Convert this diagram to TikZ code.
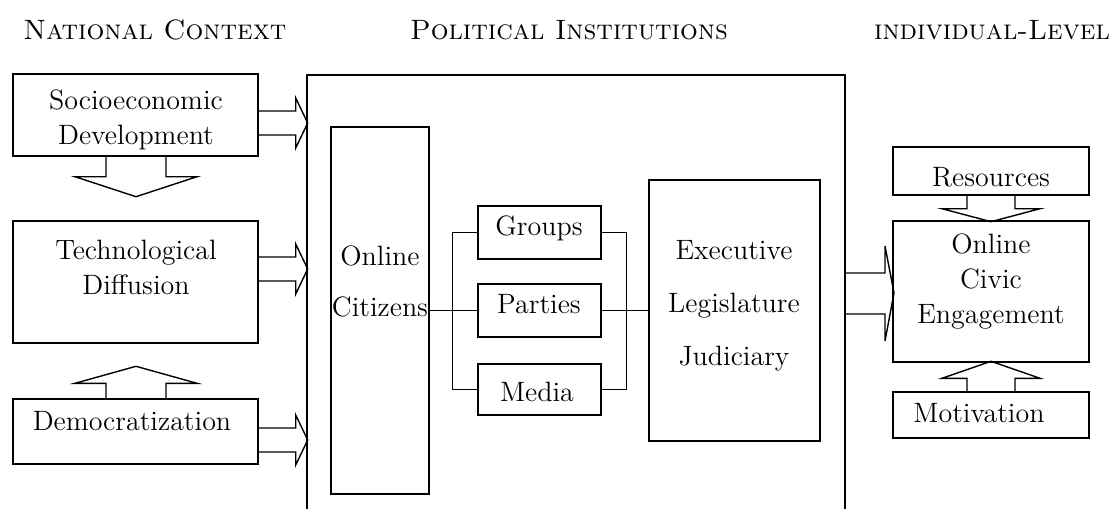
\documentclass[tikz,border=0pt]{standalone}
\usetikzlibrary{fit}
\tikzset{
  box/.style={draw, inner sep=0pt},
  lbl/.style={font=\fontsize{14}{17.5}\selectfont, align=center, inner sep=0pt},
  head/.style={font=\fontsize{14}{16}\selectfont, inner sep=0pt},
  fat/.style={line join=miter},
}
\begin{document}
\begin{tikzpicture}[x=0.5pt, y=-0.5pt, line width=0.7pt]
    \useasboundingbox (0,0) rectangle (1115,509);

    % headings
    \node[head] (hnat) at (155,30) {\textsc{National Context}};
    \node[head] (hpol) at (569,30) {\textsc{Political Institutions}};
    \node[head] (hind) at (992,30) {\textsc{individual-Level}};

    % national context
    \node[box, fit={(13,74) (258,156)}] (socio) {};
    \node[box, fit={(13,221) (258,343)}] (tech) {};
    \node[box, fit={(13,399) (258,464)}] (demo) {};
    \node[lbl] (sociotxt) at (136,120) {Socioeconomic\\Development};
    \node[lbl] (techtxt) at (136,267) {Technological\\Diffusion};
    \node[lbl] (demotxt) at (132,421) {Democratization};

    % political institutions (open at the bottom)
    \coordinate (instW) at (307,0);
    \coordinate (instE) at (845,0);
    \draw (instW |- 0,509) |- (instE |- 0,75) -- (instE |- 0,509);

    \node[box, fit={(331,127) (429,494)}] (cit) {};
    \node[box, fit={(478,206) (601,259)}] (groups) {};
    \node[box, fit={(478,284) (601,337)}] (parties) {};
    \node[box, fit={(478,364) (601,415)}] (media) {};
    \node[box, fit={(649,180) (820,441)}] (exec) {};
    \node[lbl] (cittxt) at (380,281) {Online\\[8pt]Citizens};
    \node[lbl] (groupstxt) at (539,228) {Groups};
    \node[lbl] (partiestxt) at (539,304) {Parties};
    \node[lbl] (mediatxt) at (537,392) {Media};
    \node[lbl] (exectxt) at (734,306) {Executive\\[9pt]Legislature\\[9pt]Judiciary};

    \draw (cit) -- (parties);
    \draw (parties) -- (exec);
    \draw (groups.west) -- ++(-25,0) |- (media.west);
    \draw (groups.east) -- ++(25,0) |- (media.east);

    % individual level
    \node[box, fit={(893,147) (1089,195)}] (res) {};
    \node[box, fit={(893,221) (1089,362)}] (civic) {};
    \node[box, fit={(893,392) (1089,438)}] (motiv) {};
    \node[lbl] (restxt) at (991,177) {Resources};
    \node[lbl] (civictxt) at (991,282) {Online\\Civic\\Engagement};
    \node[lbl] (motivtxt) at (979,413) {Motivation};

    % block arrows
    \foreach \b/\y in {socio/123, tech/269, demo/440}
        \draw[fat] (\b.east |- 0,\y-12) -- ++(37,0) -- ++(0,-13) -- ++(12,25)
            -- ++(-12,25) -- ++(0,-13) -- (\b.east |- 0,\y+12);
    \draw[fat] (socio.south -| 106,0) -- ++(0,20) -- ++(-31,0) -- ++(61,20)
        -- ++(61,-20) -- ++(-31,0) -- (socio.south -| 166,0);
    \draw[fat] (demo.north -| 106,0) -- ++(0,-15) -- ++(-31,0) -- ++(61,-17)
        -- ++(61,17) -- ++(-31,0) -- (demo.north -| 166,0);
    \draw[fat] (res.south -| 967,0) -- ++(0,13) -- ++(-25,0) -- ++(49,13)
        -- ++(49,-13) -- ++(-25,0) -- (res.south -| 1015,0);
    \draw[fat] (motiv.north -| 967,0) -- ++(0,-13) -- ++(-25,0) -- ++(49,-17)
        -- ++(49,17) -- ++(-25,0) -- (motiv.north -| 1015,0);
    \draw[fat] (instE |- 0,273) -- ++(40,0) -- ++(0,-27) -- ++(9,47)
        -- ++(-9,48) -- ++(0,-27) -- (instE |- 0,314);
\end{tikzpicture}
\end{document}
